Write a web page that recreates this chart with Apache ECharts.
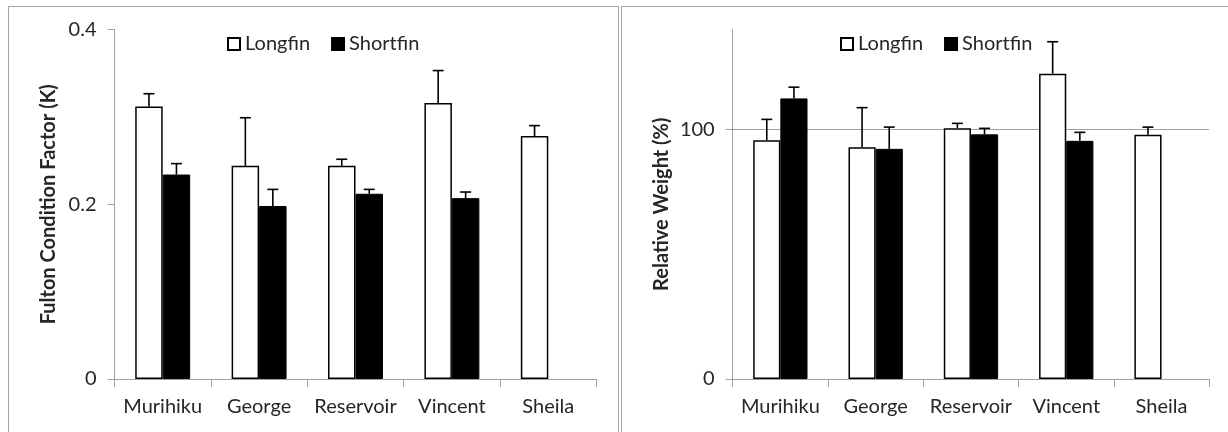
<!DOCTYPE html>
<html>
<head>
<meta charset="utf-8">
<script src="https://cdn.jsdelivr.net/npm/echarts@6/dist/echarts.min.js"></script>
<style>
  html, body { margin: 0; padding: 0; background: #fff; }
  #chart { width: 1228px; height: 432px; }
</style>
</head>
<body>
<div id="chart"></div>
<script>
const categories = ['Murihiku', 'George', 'Reservoir', 'Vincent', 'Sheila'];
const seriesNames = ['Longfin', 'Shortfin'];

// Fulton condition factor (K)
const kLongfin = [0.312, 0.244, 0.244, 0.316, 0.278];
const kLongfinErr = [0.0145, 0.055, 0.0075, 0.037, 0.012];
const kShortfin = [0.234, 0.198, 0.212, 0.207, null];
const kShortfinErr = [0.0125, 0.019, 0.005, 0.007, null];
const kTicks = [0, 0.2, 0.4];

// Relative weight (%)
const wLongfin = [95.6, 92.8, 100.4, 122.3, 97.8];
const wLongfinErr = [8.4, 15.9, 2.0, 12.8, 3.1];
const wShortfin = [112.4, 92.2, 98.0, 95.4, null];
const wShortfinErr = [4.5, 8.7, 2.4, 3.4, null];
const wTicks = [0, 100];
const wRefLine = 100;
const wMax = 140;

const FONT = 'Lato';
const TXT = '#262626';
const AXIS = '#a0a0a0';
const CAT_GAP = 0.43;

function errData(vals, errs, slot) {
  const out = [];
  vals.forEach((v, i) => {
    if (v != null && errs[i] != null) out.push([i, v, errs[i], slot]);
  });
  return out;
}

function renderErr(params, api) {
  const idx = api.value(0);
  const v = api.value(1);
  const e = api.value(2);
  const slot = api.value(3);
  const base = api.coord([idx, v]);
  const top = api.coord([idx, v + e]);
  const band = api.size([1, 0])[0];
  const barW = band * (1 - CAT_GAP) / 2;
  const x = base[0] + (slot === 0 ? -barW / 2 : barW / 2);
  const cap = 5.5;
  const style = { stroke: '#000', lineWidth: 1.6 };
  return {
    type: 'group',
    children: [
      { type: 'line', shape: { x1: x, y1: base[1], x2: x, y2: top[1] }, style },
      { type: 'line', shape: { x1: x - cap, y1: top[1], x2: x + cap, y2: top[1] }, style }
    ]
  };
}

function xAxisFor(gi) {
  return {
    type: 'category', gridIndex: gi, data: categories,
    axisLine: { lineStyle: { color: AXIS, width: 1 } },
    axisTick: { show: true, length: 8, lineStyle: { color: AXIS } },
    axisLabel: { color: TXT, fontFamily: FONT, fontSize: 20, margin: 18, interval: 0 },
    splitLine: { show: false }
  };
}

const longStyle = { color: '#fff', borderColor: '#000', borderWidth: 1.5 };
const shortStyle = { color: '#000', borderColor: '#000', borderWidth: 1 };

function legendAt(left) {
  return {
    left: left, top: 29, itemWidth: 12, itemHeight: 12, itemGap: 21,
    icon: 'rect',
    data: seriesNames.map(n => ({ name: n })),
    textStyle: { color: TXT, fontFamily: FONT, fontSize: 20 },
    selectedMode: false
  };
}

const option = {
  backgroundColor: '#fff',
  animation: false,
  textStyle: { fontFamily: FONT },
  graphic: [
    { type: 'rect', shape: { x: 8.5, y: 6.5, width: 610, height: 440 }, style: { fill: 'none', stroke: '#a6a6a6', lineWidth: 1 }, z: -1 },
    { type: 'rect', shape: { x: 621.5, y: 6.5, width: 640, height: 440 }, style: { fill: 'none', stroke: '#a6a6a6', lineWidth: 1 }, z: -1 }
  ],
  legend: [legendAt(222), legendAt(835)],
  grid: [
    { left: 114.5, top: 29.5, width: 482, height: 349.5 },
    { left: 732.7, top: 29.5, width: 476.5, height: 349.5 }
  ],
  xAxis: [xAxisFor(0), xAxisFor(1)],
  yAxis: [
    {
      type: 'value', gridIndex: 0, min: kTicks[0], max: kTicks[kTicks.length - 1], interval: kTicks[1] - kTicks[0],
      name: 'Fulton Condition Factor (K)', nameLocation: 'middle', nameGap: 56,
      nameTextStyle: { color: TXT, fontFamily: FONT, fontSize: 20, fontWeight: 'bold' },
      axisLine: { show: true, lineStyle: { color: AXIS } },
      axisTick: { show: true, length: 7, lineStyle: { color: AXIS } },
      axisLabel: { color: TXT, fontFamily: FONT, fontSize: 20, margin: 18 },
      splitLine: { show: false }
    },
    {
      type: 'value', gridIndex: 1, min: 0, max: wMax, interval: 100,
      name: 'Relative Weight (%)', nameLocation: 'middle', nameGap: 61,
      nameTextStyle: { color: TXT, fontFamily: FONT, fontSize: 20, fontWeight: 'bold' },
      axisLine: { show: true, lineStyle: { color: AXIS } },
      axisTick: { show: true, length: 7, lineStyle: { color: AXIS }, customValues: wTicks },
      axisLabel: { color: TXT, fontFamily: FONT, fontSize: 20, margin: 18, customValues: wTicks },
      splitLine: { show: false }
    }
  ],
  series: [
    {
      name: 'Longfin', type: 'bar', xAxisIndex: 0, yAxisIndex: 0, data: kLongfin,
      barGap: '0%', barCategoryGap: (CAT_GAP * 100) + '%', itemStyle: longStyle, z: 2
    },
    {
      name: 'Shortfin', type: 'bar', xAxisIndex: 0, yAxisIndex: 0, data: kShortfin,
      barGap: '0%', barCategoryGap: (CAT_GAP * 100) + '%', itemStyle: shortStyle, z: 2
    },
    {
      type: 'custom', xAxisIndex: 0, yAxisIndex: 0, renderItem: renderErr, z: 3, silent: true,
      data: errData(kLongfin, kLongfinErr, 0).concat(errData(kShortfin, kShortfinErr, 1))
    },
    {
      name: 'Longfin', type: 'bar', xAxisIndex: 1, yAxisIndex: 1, data: wLongfin,
      barGap: '0%', barCategoryGap: (CAT_GAP * 100) + '%', itemStyle: longStyle, z: 2,
      markLine: {
        silent: true, symbol: 'none', z: 1,
        label: { show: false },
        lineStyle: { color: AXIS, type: 'solid', width: 1 },
        data: [{ yAxis: wRefLine }]
      }
    },
    {
      name: 'Shortfin', type: 'bar', xAxisIndex: 1, yAxisIndex: 1, data: wShortfin,
      barGap: '0%', barCategoryGap: (CAT_GAP * 100) + '%', itemStyle: shortStyle, z: 2
    },
    {
      type: 'custom', xAxisIndex: 1, yAxisIndex: 1, renderItem: renderErr, z: 3, silent: true,
      data: errData(wLongfin, wLongfinErr, 0).concat(errData(wShortfin, wShortfinErr, 1))
    }
  ]
};

const chart = echarts.init(document.getElementById('chart'), null, { renderer: 'canvas' });
chart.setOption(option);
</script>
</body>
</html>
